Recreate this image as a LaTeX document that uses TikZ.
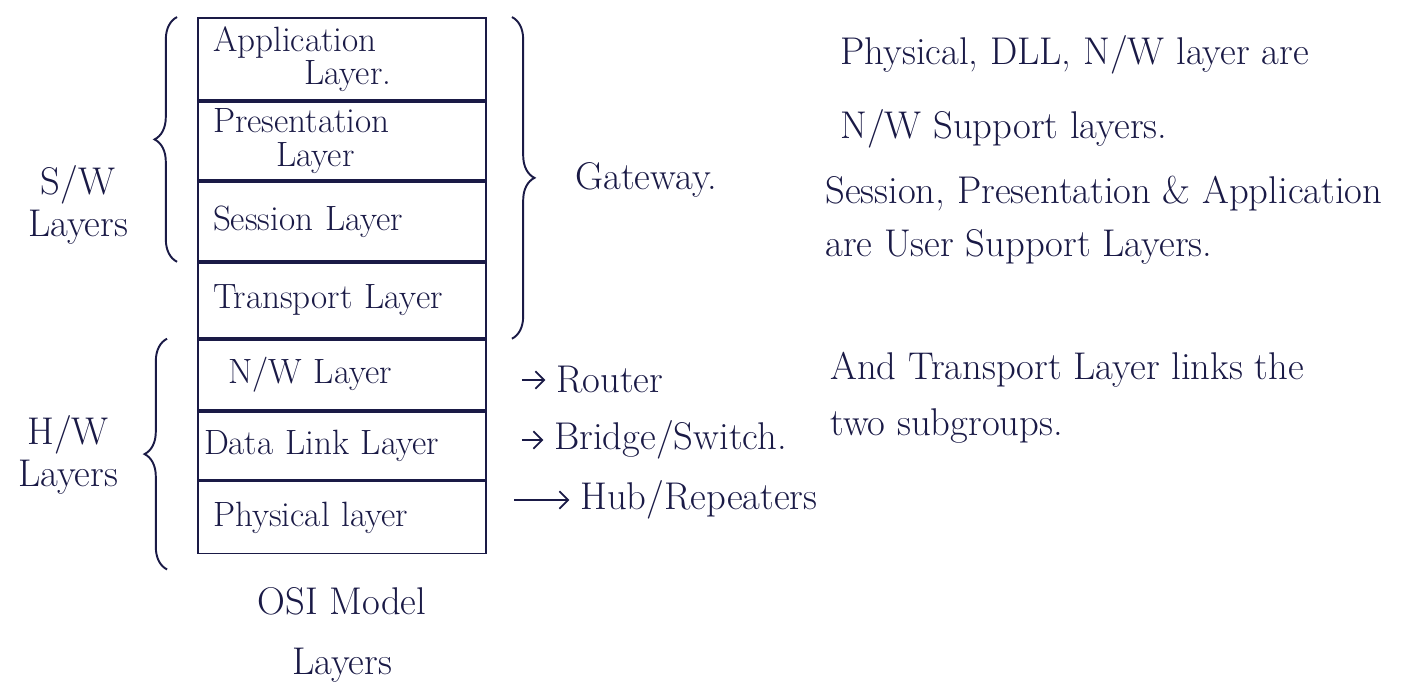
\documentclass[tikz,border=0pt]{standalone}
\usepackage{fontspec}
\usetikzlibrary{positioning,decorations.pathreplacing,arrows.meta}
\definecolor{ink}{RGB}{26,26,70}
\newcommand{\hand}{\fontsize{22}{24}\selectfont}
\newcommand{\boxhand}{\fontsize{20}{22}\selectfont}
\tikzset{
	layer/.style={draw=ink, line width=1.1pt, minimum width=5.76cm, text width=5.16cm, inner xsep=0.3cm, inner ysep=0pt, align=left, font=\boxhand, text=ink},
	note/.style={anchor=west, inner sep=0pt, align=left, font=\hand, text=ink},
	brc/.style={decorate, decoration={brace, amplitude=0.45cm}, line width=1.1pt, draw=ink},
	dev/.style={-{Straight Barb[length=5pt]}, line width=1pt, draw=ink, shorten >=6pt}
}
\begin{document}
\begin{tikzpicture}[x=0.02cm, y=-0.02cm]
	\useasboundingbox (0,0) rectangle (1428,697);
	% the seven layers
	\node[layer, minimum height=1.64cm, font=\fontsize{20}{19}\selectfont] (app) at (342,59) {Application\\\hspace*{2.6em}Layer.};
	\node[layer, minimum height=1.56cm, font=\fontsize{20}{19}\selectfont, below=0pt of app] (pres) {Presentation\\\hspace*{1.8em}Layer};
	\node[layer, minimum height=1.58cm, below=0pt of pres] (sess) {Session Layer};
	\node[layer, minimum height=1.5cm, below=0pt of sess] (tp) {Transport Layer};
	\node[layer, minimum height=1.4cm, below=0pt of tp, inner xsep=0.6cm, text width=4.56cm] (nw) {N/W Layer};
	\node[layer, minimum height=1.36cm, below=0pt of nw, inner xsep=0.12cm, text width=5.52cm] (dll) {Data Link Layer};
	\node[layer, minimum height=1.44cm, below=0pt of dll] (phys) {Physical layer};
	\node[note, anchor=center, align=center, font=\fontsize{22}{34}\selectfont] (osi) at (342,635) {OSI Model\\Layers};
	% braces
	\draw[brc] ([xshift=-0.4cm]sess.south west) -- ([xshift=-0.4cm]app.north west);
	\draw[brc] ([xshift=-0.6cm, yshift=-0.3cm]phys.south west) -- ([xshift=-0.6cm]nw.north west);
	\draw[brc] ([xshift=0.5cm]app.north east) -- ([xshift=0.5cm]tp.south east);
	\node[note, anchor=center, align=center] (sw) at (78,205) {S/W\\Layers};
	\node[note, anchor=center, align=center] (hw) at (68,455) {H/W\\Layers};
	\node[note] (gw) at (575,180) {Gateway.};
	% devices
	\node[note] (router) at (556,380) {Router};
	\node[note] (bridge) at (554,440) {Bridge/Switch.};
	\node[note] (hub) at (580,500) {Hub/Repeaters};
	\draw[dev, shorten <=0.7cm] (nw.east |- router) -- (router);
	\draw[dev, shorten <=0.7cm] (dll.east |- bridge) -- (bridge);
	\draw[dev, shorten <=0.55cm] (phys.east |- hub) -- (hub);
	% notes
	\node[note, font=\fontsize{22}{42}\selectfont] (nwsup) at (840,92) {Physical, DLL, N/W layer are\\N/W Support layers.};
	\node[note, font=\fontsize{22}{30}\selectfont] (usrsup) at (825,220) {Session, Presentation \& Application\\are User Support Layers.};
	\node[note, font=\fontsize{22}{32}\selectfont] (links) at (830,398) {And Transport Layer links the\\two subgroups.};
\end{tikzpicture}
\end{document}
